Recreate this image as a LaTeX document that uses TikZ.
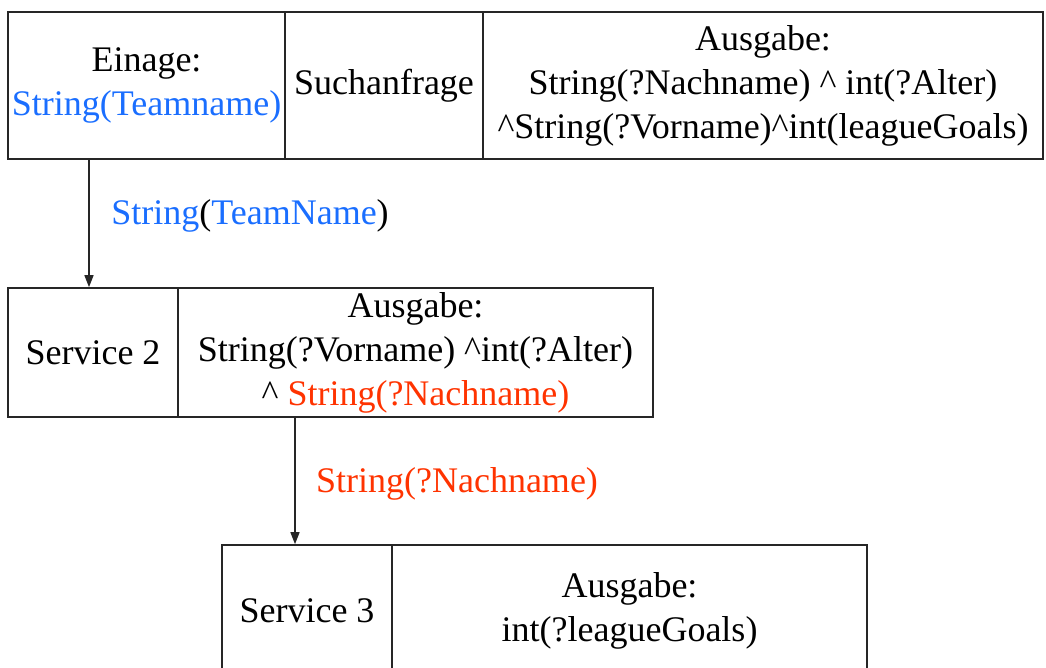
\documentclass[tikz,border=0pt]{standalone}
\usepackage{fontspec}
\setmainfont{LiberationSerif-Regular.ttf}
\newfontfamily\diagfont{LiberationSerif-Regular.ttf}
\usetikzlibrary{arrows.meta}
\definecolor{inblue}{RGB}{26,110,255}
\definecolor{outred}{RGB}{255,51,0}
\begin{document}
\begin{tikzpicture}[x=1pt,y=-1pt,
  cell/.style={draw=black!85,line width=1.6pt,inner sep=0pt,align=center,
    font=\diagfont\fontsize{36}{44}\selectfont},
  flow/.style={draw=black!85,line width=1.4pt,-{Triangle[length=12pt,width=9pt]}},
  lbl/.style={inner sep=0pt,font=\diagfont\fontsize{36}{44}\selectfont}]
\useasboundingbox (0,0) rectangle (1046,667);
\clip (0,0) rectangle (1046,667);

% first service: input, query, output
\node[cell,minimum width=277pt,minimum height=147pt] (c1) at (146.5,85.5)
  {Einage:\\\textcolor{inblue}{String(Teamname)}};
\node[cell,minimum width=198pt,minimum height=147pt] (c2) at (384,85.5)
  {Suchanfrage};
\node[cell,minimum width=560pt,minimum height=147pt] (c3) at (763,85.5)
  {Ausgabe:\\String(?Nachname) \^{} int(?Alter)\\\^{}String(?Vorname)\^{}int(leagueGoals)};

% second service
\node[cell,minimum width=170pt,minimum height=129pt] (d1) at (93,352.5)
  {Service 2};
\node[cell,minimum width=475pt,minimum height=129pt] (d2) at (415.5,352.5)
  {Ausgabe:\\String(?Vorname) \^{}int(?Alter)\\\^{} \textcolor{outred}{String(?Nachname)}};

% third service
\node[cell,minimum width=170pt,minimum height=132pt] (e1) at (307,611)
  {Service 3};
\node[cell,minimum width=475pt,minimum height=132pt] (e2) at (629.5,611)
  {Ausgabe:\\int(?leagueGoals)};

% connectors between the services
\coordinate (p1) at (89,0);
\coordinate (p2) at (295,0);
\draw[flow] (c1.south -| p1) -- (d1.north -| p1);
\draw[flow] (d2.south -| p2) -- (e1.north -| p2);

\node[lbl] (l1) at (250,216)
  {\textcolor{inblue}{String}(\textcolor{inblue}{TeamName})};
\node[lbl,text=outred] (l2) at (457,484) {String(?Nachname)};
\end{tikzpicture}
\end{document}
